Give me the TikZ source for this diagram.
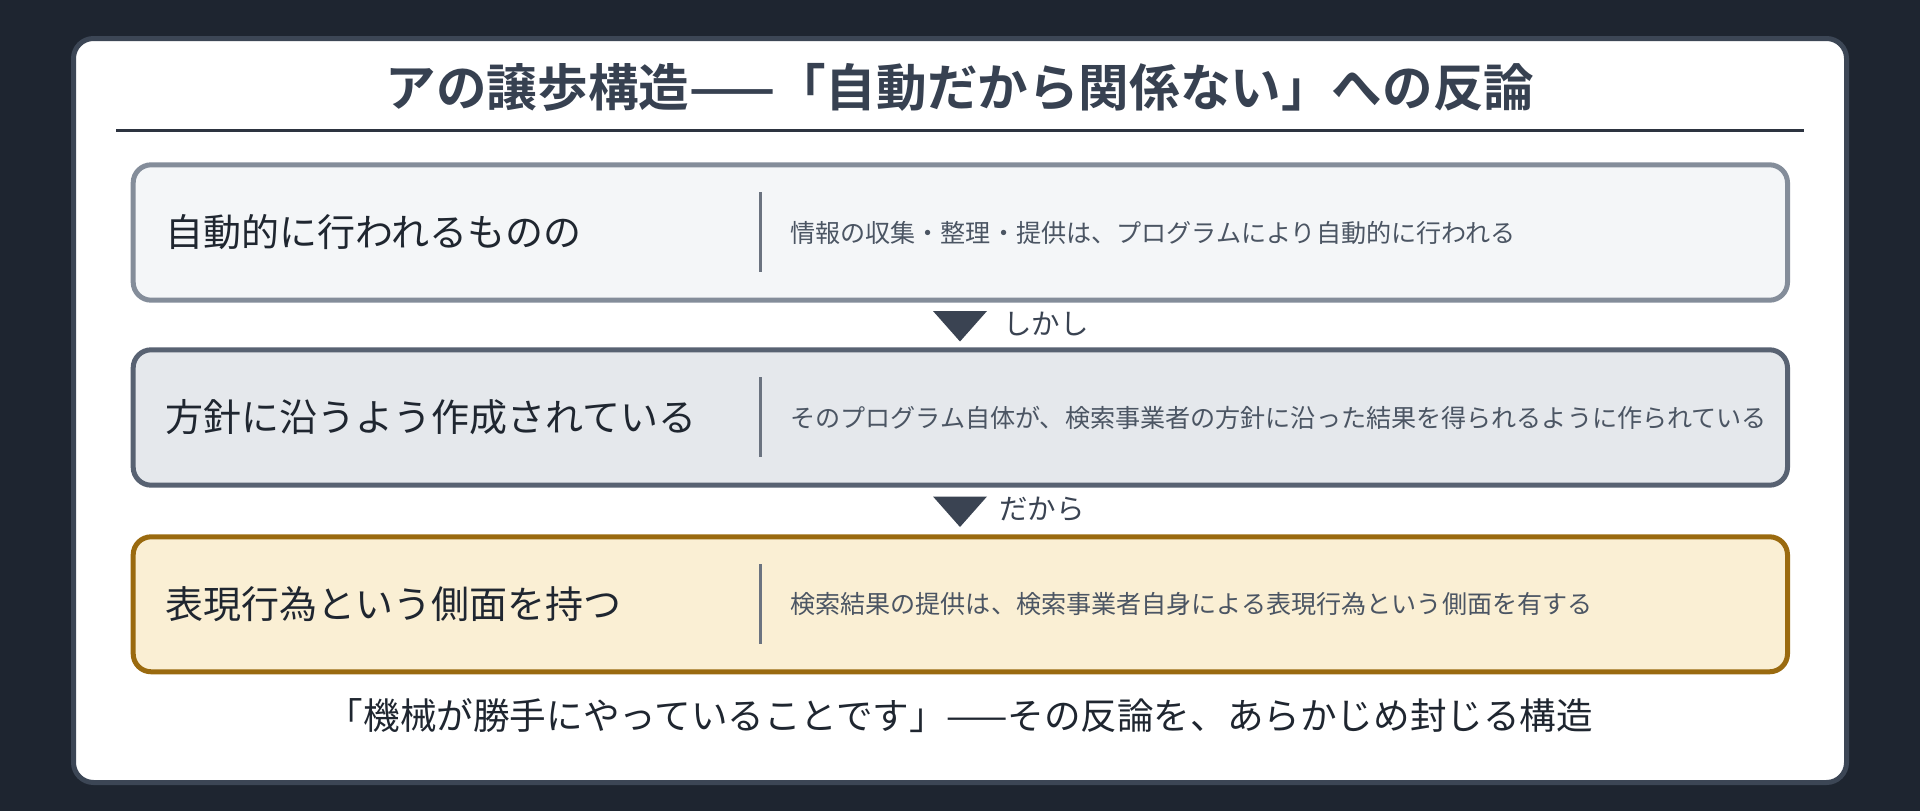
\documentclass[tikz,border=0pt]{standalone}
\usepackage{fontspec}
\setmainfont{Noto Sans CJK JP}
\newfontfamily\jpbold{Noto Sans CJK JP Bold}
\definecolor{bgdark}{HTML}{1E2530}
\definecolor{cardborder}{HTML}{3C4655}
\definecolor{titlecol}{HTML}{374151}
\definecolor{rulecol}{HTML}{2D3440}
\definecolor{boxAfill}{HTML}{F4F6F8}
\definecolor{boxAdraw}{HTML}{848D9A}
\definecolor{boxBfill}{HTML}{E5E8EC}
\definecolor{boxBdraw}{HTML}{586272}
\definecolor{boxCfill}{HTML}{FAEFD4}
\definecolor{boxCdraw}{HTML}{9A6A0F}
\definecolor{maintext}{HTML}{1F2630}
\definecolor{subtext}{HTML}{4B5563}
\definecolor{divcol}{HTML}{6B7380}
\definecolor{arrowcol}{HTML}{3A4352}
\tikzset{
  stagebox/.style={rounded corners=18pt, line width=5pt},
  lefttext/.style={anchor=west, inner sep=0pt, font=\fontsize{38}{44}\selectfont, text=maintext},
  righttext/.style={anchor=west, inner sep=0pt, font=\fontsize{25.1}{30}\selectfont, text=subtext},
  divider/.style={draw=divcol, line width=2.5pt},
  tri/.style={fill=arrowcol},
  connlabel/.style={anchor=west, inner sep=0pt, font=\fontsize{28.5}{33}\selectfont, text=arrowcol}
}
\begin{document}
\begin{tikzpicture}[x=1pt,y=-1pt]
\useasboundingbox (0,0) rectangle (1920,811);
\fill[bgdark] (0,0) rectangle (1920,811);
% card
\draw[cardborder, fill=white, line width=5pt, rounded corners=20pt] (73.5,38.5) rectangle (1846.5,782.5);
% title
\node[inner sep=0pt, font=\jpbold\fontsize{50.6}{56}\selectfont, text=titlecol] (title) at (960,87) {アの譲歩構造——「自動だから関係ない」への反論};
\coordinate (ruleL) at (116,130);
\coordinate (ruleR) at (1804,130);
\draw[rulecol, line width=3pt] (ruleL) -- (ruleR);
% boxes
\draw[stagebox, draw=boxAdraw, fill=boxAfill] (133.2,164.8) rectangle (1787.5,300.2);
\draw[stagebox, draw=boxBdraw, fill=boxBfill] (133.2,349.8) rectangle (1787.5,485.2);
\draw[stagebox, draw=boxCdraw, fill=boxCfill] (133.2,536.8) rectangle (1787.5,671.8);
% dividers
\draw[divider] (760.5,192) -- (760.5,272);
\draw[divider] (760.5,377) -- (760.5,457);
\draw[divider] (760.5,564) -- (760.5,644);
% texts
\node[lefttext] (l1) at (165,232.5) {自動的に行われるものの};
\node[righttext] (r1) at (790,232.5) {情報の収集・整理・提供は、プログラムにより自動的に行われる};
\node[lefttext] (l2) at (165,417.5) {方針に沿うよう作成されている};
\node[righttext] (r2) at (790,417.5) {そのプログラム自体が、検索事業者の方針に沿った結果を得られるように作られている};
\node[lefttext] (l3) at (165,604.3) {表現行為という側面を持つ};
\node[righttext] (r3) at (790,604.3) {検索結果の提供は、検索事業者自身による表現行為という側面を有する};
% connectors
\fill[tri] (933,311) -- (987,311) -- (960,341.5) -- cycle;
\node[connlabel] (c1) at (1003,324) {しかし};
\fill[tri] (933,496.5) -- (987,496.5) -- (960,527) -- cycle;
\node[connlabel] (c2) at (999,509) {だから};
% bottom
\node[inner sep=0pt, font=\fontsize{36.6}{42}\selectfont, text=maintext] (bottom) at (960,716) {「機械が勝手にやっていることです」——その反論を、あらかじめ封じる構造};
\end{tikzpicture}
\end{document}
